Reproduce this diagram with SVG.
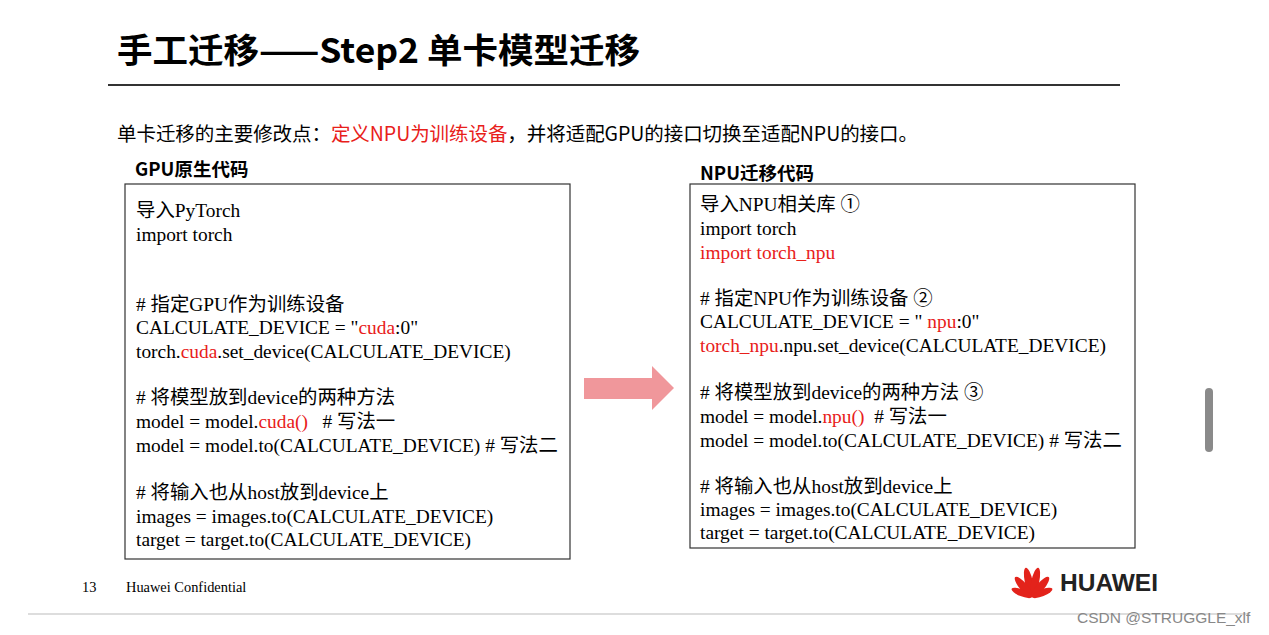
<svg xmlns="http://www.w3.org/2000/svg" width="1269" height="635" viewBox="0 0 1269 635">
<style>
text{white-space:pre}
.c{font-family:"Liberation Serif","Noto Sans CJK SC",serif;font-size:19.4px;fill:#000}
.r{fill:#e8201a}
.h{font-family:"Noto Sans CJK SC","Noto Sans",sans-serif;font-weight:bold;fill:#000}
.box{fill:#fff;stroke:#333;stroke-width:1.2}
.p{fill:#e3231b}
</style>
<rect width="1269" height="635" fill="#fff"/>
<g id="title">
<text class="h" x="117" y="63" font-size="34" textLength="523" lengthAdjust="spacingAndGlyphs">手工迁移——Step2 单卡模型迁移</text>
<rect x="108" y="84" width="1012" height="2" fill="#333"/>
<text x="117" y="141" font-family="'Noto Sans CJK SC',sans-serif" font-size="19.5" textLength="801">单卡迁移的主要修改点：<tspan class="r">定义NPU为训练设备</tspan>，并将适配GPU的接口切换至适配NPU的接口。</text>
</g>
<g id="gpu">
<text class="h" x="135" y="176" font-size="18.5">GPU原生代码</text>
<rect class="box" x="125" y="184" width="445" height="375"/>
<text class="c" x="136" y="217">导入PyTorch</text>
<text class="c" x="136" y="241">import torch</text>
<text class="c" x="136" y="311"># 指定GPU作为训练设备</text>
<text class="c" x="136" y="334">CALCULATE_DEVICE = "<tspan class="r">cuda</tspan>:0"</text>
<text class="c" x="136" y="358">torch.<tspan class="r">cuda</tspan>.set_device(CALCULATE_DEVICE)</text>
<text class="c" x="136" y="404"># 将模型放到device的两种方法</text>
<text class="c" x="136" y="428">model = model.<tspan class="r">cuda()</tspan>   # 写法一</text>
<text class="c" x="136" y="452">model = model.to(CALCULATE_DEVICE) # 写法二</text>
<text class="c" x="136" y="499"># 将输入也从host放到device上</text>
<text class="c" x="136" y="523">images = images.to(CALCULATE_DEVICE)</text>
<text class="c" x="136" y="546">target = target.to(CALCULATE_DEVICE)</text>
</g>
<g id="connectors">
<polygon points="584,378 652,378 652,366 674,388 652,410 652,399 584,399" fill="#f0979b"/>
</g>
<g id="npu">
<text class="h" x="700" y="180" font-size="18.5">NPU迁移代码</text>
<rect class="box" x="690" y="184" width="445" height="364"/>
<text class="c" x="700" y="211">导入NPU相关库 ①</text>
<text class="c" x="700" y="235">import torch</text>
<text class="c r" x="700" y="259">import torch_npu</text>
<text class="c" x="700" y="305"># 指定NPU作为训练设备 ②</text>
<text class="c" x="700" y="328">CALCULATE_DEVICE = " <tspan class="r">npu</tspan>:0"</text>
<text class="c" x="700" y="352"><tspan class="r">torch_npu</tspan>.npu.set_device(CALCULATE_DEVICE)</text>
<text class="c" x="700" y="399"># 将模型放到device的两种方法 ③</text>
<text class="c" x="700" y="423">model = model.<tspan class="r">npu()</tspan>  # 写法一</text>
<text class="c" x="700" y="447">model = model.to(CALCULATE_DEVICE) # 写法二</text>
<text class="c" x="700" y="493"># 将输入也从host放到device上</text>
<text class="c" x="700" y="516">images = images.to(CALCULATE_DEVICE)</text>
<text class="c" x="700" y="539">target = target.to(CALCULATE_DEVICE)</text>
</g>
<g id="footer">
<text x="82" y="592" font-family="'Liberation Serif',serif" font-size="14.4">13</text>
<text x="126" y="592" font-family="'Liberation Serif',serif" font-size="14.4">Huawei Confidential</text>
<g transform="translate(1032,597)">
<ellipse class="p" cx="0" cy="-15" rx="4" ry="15" transform="rotate(-12)"/>
<ellipse class="p" cx="0" cy="-15" rx="4" ry="15" transform="rotate(12)"/>
<ellipse class="p" cx="0" cy="-13" rx="4" ry="13" transform="rotate(-40)"/>
<ellipse class="p" cx="0" cy="-13" rx="4" ry="13" transform="rotate(40)"/>
<ellipse class="p" cx="0" cy="-11" rx="3.5" ry="11" transform="rotate(-68)"/>
<ellipse class="p" cx="0" cy="-11" rx="3.5" ry="11" transform="rotate(68)"/>
</g>
<text x="1060" y="591" font-family="'Liberation Sans',sans-serif" font-weight="bold" font-size="24.5" fill="#222">HUAWEI</text>
<line x1="28" y1="614" x2="1250" y2="614" stroke="#bbb" stroke-width="1"/>
<text x="1077" y="623" font-family="'Liberation Sans',sans-serif" font-size="15.5" fill="#888">CSDN @STRUGGLE_xlf</text>
<rect x="1205" y="388" width="8" height="64" rx="4" fill="#8a8a8a"/>
</g>
</svg>
